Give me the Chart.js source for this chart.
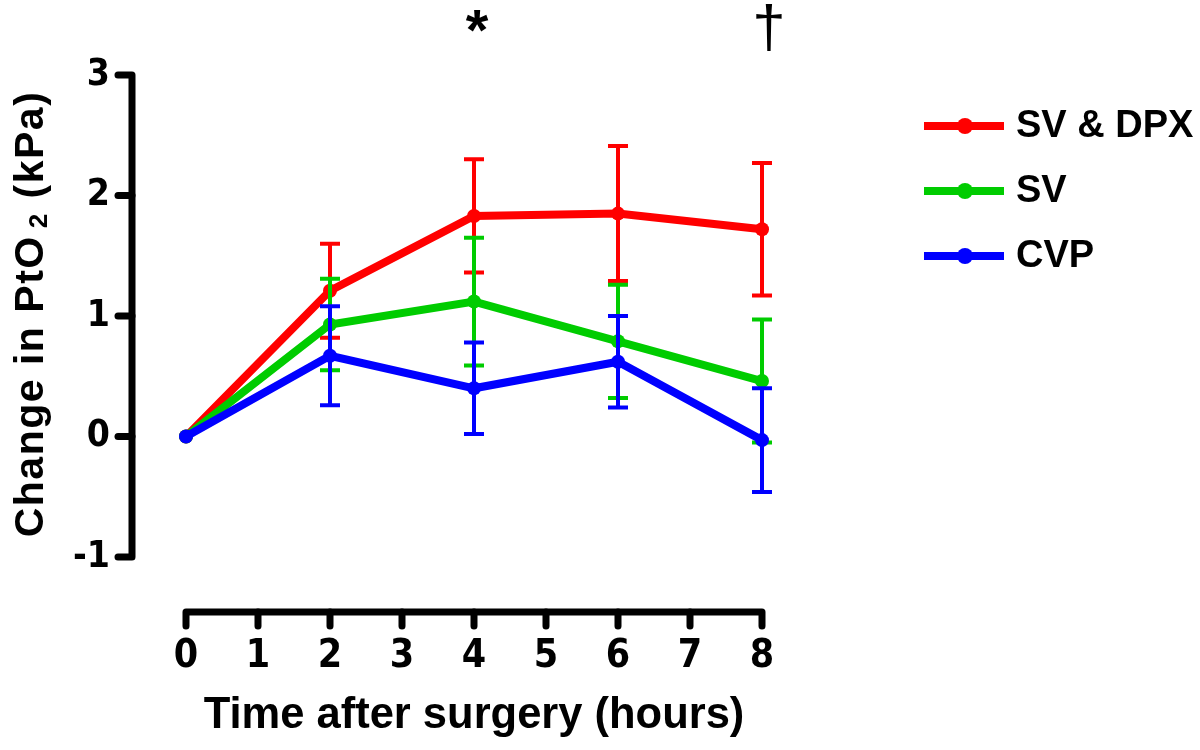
<!DOCTYPE html>
<html><head><meta charset="utf-8">
<script src="https://cdn.jsdelivr.net/npm/chart.js@4.4.0/dist/chart.umd.min.js"></script>
<style>html,body{margin:0;padding:0;background:#fff;} #wrap{width:1200px;height:750px;position:relative;}</style>
</head><body><div id="wrap"><canvas id="c" width="1200" height="750"></canvas></div>
<script>
// ---- data ----
const hours = [0, 2, 4, 6, 8];
const xTicks = [0, 1, 2, 3, 4, 5, 6, 7, 8];
const yTicks = [-1, 0, 1, 2, 3];
const seriesNames = ['SV & DPX', 'SV', 'CVP'];
const seriesColors = ['#ff0000', '#00cc00', '#0000ff'];
const svDpxMean = [0, 1.21, 1.83, 1.85, 1.72];
const svDpxErr  = [0, 0.39, 0.47, 0.56, 0.55];
const svMean    = [0, 0.93, 1.12, 0.79, 0.46];
const svErr     = [0, 0.38, 0.53, 0.47, 0.51];
const cvpMean   = [0, 0.67, 0.40, 0.62, -0.03];
const cvpErr    = [0, 0.41, 0.38, 0.38, 0.43];
const sigX      = [4, 8];
const sigMarks  = ['*', '\u2020'];
const xTitle = 'Time after surgery (hours)';
const yTitleParts = ['Change in PtO', '2', ' (kPa)'];

const means = [svDpxMean, svMean, cvpMean];
const errs = [svDpxErr, svErr, cvpErr];
const NARROW = "'Liberation Sans Narrow','Arial Narrow','DejaVu Sans Condensed',sans-serif";
const SANS = "'Liberation Sans',Arial,sans-serif";

const datasets = seriesNames.map((name, i) => ({
  label: name,
  data: hours.map((h, j) => ({x: h, y: means[i][j]})),
  borderColor: seriesColors[i],
  backgroundColor: seriesColors[i],
  borderWidth: 8,
  pointRadius: 7,
  pointHoverRadius: 7,
  pointBorderWidth: 0,
  tension: 0,
  clip: false,
  order: 2 - i,
  errs: errs[i]
}));

const errorBars = {
  id: 'errorBars',
  beforeDatasetDraw(chart, args) {
    const ds = chart.data.datasets[args.index];
    const {ctx, scales: {x, y}} = chart;
    ctx.save();
    ctx.strokeStyle = ds.borderColor;
    ctx.lineWidth = 4;
    ctx.lineCap = 'butt';
    ds.data.forEach((p, j) => {
      const e = ds.errs[j];
      if (!e) return;
      const px = x.getPixelForValue(p.x);
      const top = y.getPixelForValue(p.y + e);
      const bot = y.getPixelForValue(p.y - e);
      ctx.beginPath();
      ctx.moveTo(px, top); ctx.lineTo(px, bot);
      ctx.moveTo(px - 10, top); ctx.lineTo(px + 10, top);
      ctx.moveTo(px - 10, bot); ctx.lineTo(px + 10, bot);
      ctx.stroke();
    });
    ctx.restore();
  }
};

const prismAxes = {
  id: 'prismAxes',
  beforeDatasetsDraw(chart) {
    const {ctx, chartArea, scales: {x, y}} = chart;
    ctx.save();
    ctx.strokeStyle = '#000';
    ctx.lineWidth = 7;
    ctx.lineCap = 'round';
    ctx.lineJoin = 'round';
    // y axis
    const ax = chartArea.left - 54, tEnd = ax - 14;
    const yTop = y.getPixelForValue(yTicks[yTicks.length - 1]);
    const yBot = y.getPixelForValue(yTicks[0]);
    ctx.beginPath();
    ctx.moveTo(tEnd, yTop); ctx.lineTo(ax, yTop); ctx.lineTo(ax, yBot); ctx.lineTo(tEnd, yBot);
    ctx.stroke();
    yTicks.slice(1, -1).forEach(v => {
      const py = y.getPixelForValue(v);
      ctx.beginPath(); ctx.moveTo(ax, py); ctx.lineTo(tEnd, py); ctx.stroke();
    });
    // x axis
    const ay = chartArea.bottom + 55, tB = ay + 14;
    const xL = x.getPixelForValue(xTicks[0]);
    const xR = x.getPixelForValue(xTicks[xTicks.length - 1]);
    ctx.beginPath();
    ctx.moveTo(xL, tB); ctx.lineTo(xL, ay); ctx.lineTo(xR, ay); ctx.lineTo(xR, tB);
    ctx.stroke();
    xTicks.slice(1, -1).forEach(v => {
      const px = x.getPixelForValue(v);
      ctx.beginPath(); ctx.moveTo(px, ay); ctx.lineTo(px, tB); ctx.stroke();
    });
    ctx.restore();
  }
};

const decorations = {
  id: 'decorations',
  afterDraw(chart) {
    const {ctx, scales: {x}} = chart;
    ctx.save();
    ctx.fillStyle = '#000';
    // y title with subscript
    ctx.translate(43, 314);
    ctx.rotate(-Math.PI / 2);
    if ('letterSpacing' in ctx) ctx.letterSpacing = '1.5px';
    const big = 'bold 41px ' + SANS, small = 'bold 26px ' + SANS;
    ctx.font = big; const w0 = ctx.measureText(yTitleParts[0]).width;
    const w2 = ctx.measureText(yTitleParts[2]).width;
    ctx.font = small; const w1 = ctx.measureText(yTitleParts[1]).width + 8;
    const total = w0 + w1 + w2;
    let cx = -total / 2;
    ctx.textBaseline = 'alphabetic';
    ctx.textAlign = 'left';
    ctx.font = big; ctx.fillText(yTitleParts[0], cx, 0); cx += w0 + 7;
    ctx.font = small; ctx.fillText(yTitleParts[1], cx, 4); cx += w1 - 7;
    ctx.font = big; ctx.fillText(yTitleParts[2], cx, 0);
    ctx.restore();

    // significance marks
    ctx.save();
    ctx.fillStyle = '#000';
    ctx.textAlign = 'center';
    ctx.textBaseline = 'alphabetic';
    sigX.forEach((v, i) => {
      const px = x.getPixelForValue(v);
      if (sigMarks[i] === '*') {
        ctx.font = 'bold 58px ' + SANS;
        ctx.fillText(sigMarks[i], px + 3, 50);
      } else {
        ctx.font = '60px ' + SANS;
        ctx.fillText(sigMarks[i], px + 7, 47);
      }
    });
    ctx.restore();

    // legend
    ctx.save();
    seriesNames.forEach((name, i) => {
      const ly = 126 + i * 65;
      ctx.strokeStyle = seriesColors[i];
      ctx.fillStyle = seriesColors[i];
      ctx.lineWidth = 8;
      ctx.beginPath(); ctx.moveTo(924, ly); ctx.lineTo(1004, ly); ctx.stroke();
      ctx.beginPath(); ctx.arc(965, ly, 8, 0, Math.PI * 2); ctx.fill();
      ctx.fillStyle = '#000';
      ctx.font = 'bold 38px ' + SANS;
      ctx.textBaseline = 'middle';
      ctx.textAlign = 'left';
      ctx.fillText(name, 1016, ly + 1);
    });
    ctx.restore();
  }
};

new Chart(document.getElementById('c'), {
  type: 'line',
  data: {datasets},
  plugins: [errorBars, prismAxes, decorations],
  options: {
    responsive: false,
    animation: false,
    events: [],
    layout: {padding: {left: 0, top: 75, right: 438, bottom: 0}},
    plugins: {legend: {display: false}, tooltip: {enabled: false}},
    scales: {
      x: {
        type: 'linear', min: 0, max: 8,
        afterFit: s => { s.height = 193; s.paddingLeft = 0; s.paddingRight = 0; },
        afterBuildTicks: s => { s.ticks = xTicks.map(v => ({value: v})); },
        grid: {display: false, drawTicks: false},
        border: {display: false},
        ticks: {color: '#000', padding: 80, font: {family: NARROW, size: 39, weight: 'bold', lineHeight: 1}, maxRotation: 0, autoSkip: false},
        title: {display: true, text: xTitle, color: '#000', font: {family: SANS, size: 43.5, weight: 'bold', lineHeight: 1}, padding: {top: 0, bottom: 12}}
      },
      y: {
        type: 'linear', min: -1, max: 3,
        afterFit: s => { s.width = 186; s.paddingTop = 0; s.paddingBottom = 0; },
        afterBuildTicks: s => { s.ticks = yTicks.map(v => ({value: v})); },
        grid: {display: false, drawTicks: false},
        border: {display: false},
        ticks: {color: '#000', padding: 76, font: {family: NARROW, size: 37, weight: 'bold', lineHeight: 1}}
      }
    }
  }
});
</script></body></html>
